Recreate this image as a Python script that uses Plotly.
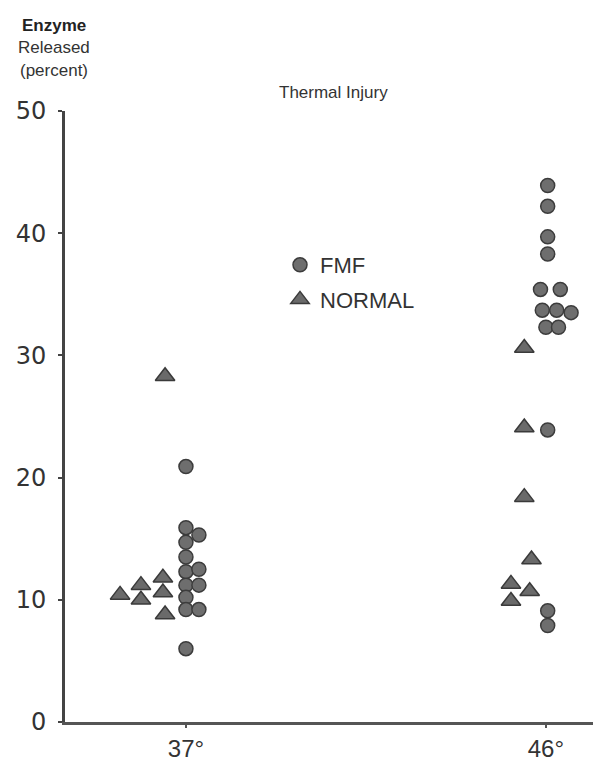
import plotly.graph_objects as go

# ---- data ----
temps = ["37°", "46°"]
temp_pos = [1, 2]

# FMF (circles)
fmf_37 = [20.9, 15.9, 14.7, 13.5, 12.3, 11.2, 10.2, 9.2, 6.0, 15.3, 12.5, 11.2, 9.2]
fmf_37_off = [0, 0, 0, 0, 0, 0, 0, 0, 0, 0.036, 0.036, 0.036, 0.036]
fmf_46 = [43.9, 42.2, 39.7, 38.3, 35.4, 35.4, 33.7, 33.7, 33.5, 32.3, 32.3, 23.9, 9.1, 7.9]
fmf_46_off = [0.005, 0.005, 0.005, 0.005, -0.015, 0.04, -0.01, 0.03, 0.07, 0.0, 0.035, 0.005, 0.005, 0.005]

# NORMAL (triangles)
norm_37 = [28.3, 11.8, 10.6, 8.8, 11.2, 10.0, 10.4]
norm_37_off = [-0.058, -0.064, -0.064, -0.058, -0.125, -0.125, -0.183]
norm_46 = [30.6, 24.1, 18.4, 13.3, 11.3, 9.9, 10.7]
norm_46_off = [-0.06, -0.06, -0.06, -0.04, -0.097, -0.097, -0.045]

y_ticks = [0, 10, 20, 30, 40, 50]

W, H = 601, 760
L, R, T, B = 57, 3, 103, 46
pw, ph = W - L - R, H - T - B


def px(x):
    return (x - L) / pw


def py(y):
    return (H - B - y) / ph


fmf_x = [temp_pos[0] + o for o in fmf_37_off] + [temp_pos[1] + o for o in fmf_46_off]
fmf_y = fmf_37 + fmf_46
norm_x = [temp_pos[0] + o for o in norm_37_off] + [temp_pos[1] + o for o in norm_46_off]
norm_y = norm_37 + norm_46

fig = go.Figure()
fig.add_trace(go.Scatter(
    x=fmf_x, y=fmf_y, mode="markers", name="FMF", legendgroup="a",
    marker=dict(symbol="circle", size=14, color="#6e6e6e",
                line=dict(color="#3c3c3c", width=1.5)),
))
fig.add_trace(go.Scatter(
    x=norm_x, y=norm_y, mode="markers", name="NORMAL", legendgroup="b",
    marker=dict(symbol="triangle-up", size=17, color="#6a6a6a",
                line=dict(color="#3a3a3a", width=1.5)),
))

font = "Liberation Sans, Arial, sans-serif"

fig.update_layout(
    width=W, height=H,
    margin=dict(l=L, r=R, t=T, b=B),
    paper_bgcolor="white", plot_bgcolor="white",
    font=dict(family=font, color="#333"),
    showlegend=True,
    legend=dict(x=px(272), y=py(236), xanchor="left", yanchor="top",
                bgcolor="rgba(0,0,0,0)", font=dict(size=22, color="#333"),
                traceorder="grouped", tracegroupgap=3, itemwidth=30),
    xaxis=dict(range=[0.664, 2.167], tickvals=temp_pos, ticktext=temps,
               showline=True, linecolor="#555", linewidth=2.5,
               ticks="outside", ticklen=3, tickwidth=2, tickcolor="#555",
               showgrid=False, zeroline=False, ticklabelstandoff=0,
               tickfont=dict(size=24, color="#333")),
    yaxis=dict(range=[0, 50], tickvals=y_ticks,
               showline=True, linecolor="#444", linewidth=3,
               ticks="outside", ticklen=4, tickwidth=2, tickcolor="#444",
               showgrid=False, zeroline=False, ticklabelstandoff=7,
               tickfont=dict(size=24, family="DejaVu Sans", color="#333")),
    annotations=[
        dict(text="<b>Enzyme</b>", x=px(46), y=py(18), xref="paper", yref="paper",
             showarrow=False, font=dict(size=17, color="#222"),
             xanchor="center", yanchor="middle"),
        dict(text="Released", x=px(46), y=py(40), xref="paper", yref="paper",
             showarrow=False, font=dict(size=17, color="#333"),
             xanchor="center", yanchor="middle"),
        dict(text="(percent)", x=px(46), y=py(62), xref="paper", yref="paper",
             showarrow=False, font=dict(size=17, color="#333"),
             xanchor="center", yanchor="middle"),
        dict(text="Thermal Injury", x=px(325), y=py(85), xref="paper", yref="paper",
             showarrow=False, font=dict(size=17, color="#333"),
             xanchor="center", yanchor="middle"),
    ],
)

fig.write_html("out.html")
